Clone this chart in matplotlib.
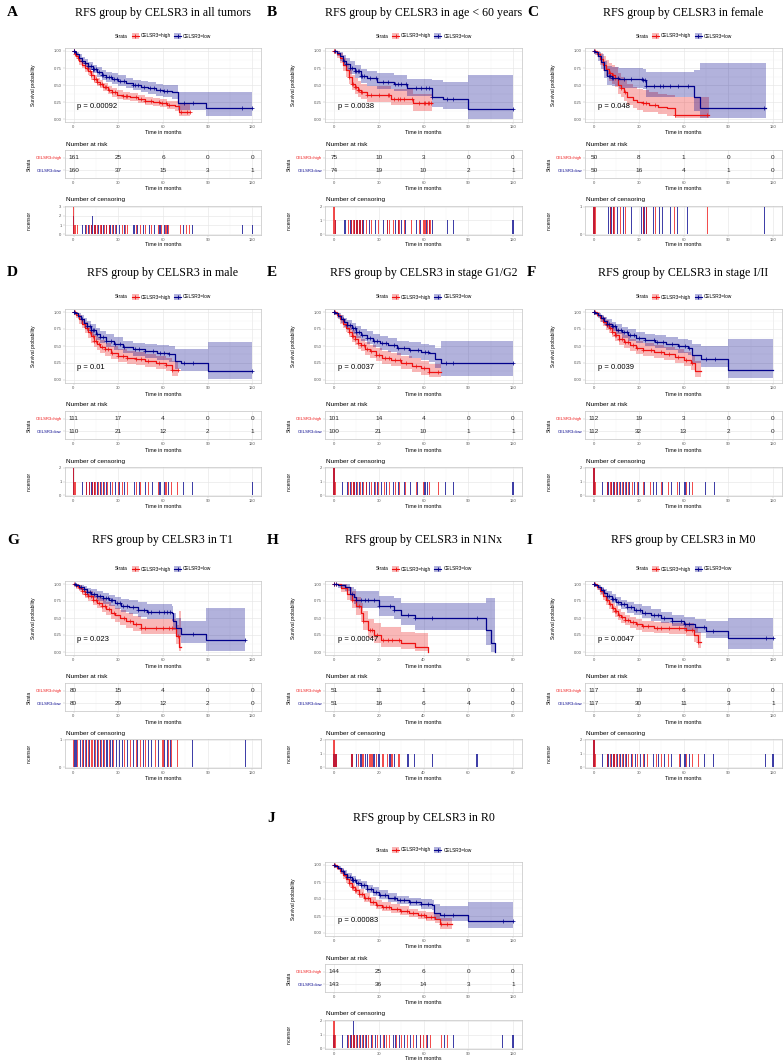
import numpy as np
import matplotlib.pyplot as plt
from matplotlib.patches import Rectangle
from matplotlib.lines import Line2D

# ---------------- data ----------------
# A: all tumors
a_high_time = [0, 1, 2, 3, 4, 6, 8, 10, 12, 14, 16, 18, 20, 23, 26, 29, 33, 38, 43, 48, 53, 58, 63, 68, 71, 78]
a_high_surv = [1.0, .96, .93, .89, .85, .80, .75, .70, .64, .59, .55, .51, .47, .43, .39, .36, .34, .32, .30, .27, .25, .23, .21, .19, .11, .11]
a_high_lower = [1.0, .93, .89, .85, .80, .75, .69, .64, .58, .53, .49, .45, .41, .37, .33, .30, .28, .26, .24, .21, .19, .17, .15, .12, .05, .05]
a_high_upper = [1.0, .99, .97, .94, .90, .86, .81, .76, .70, .65, .61, .57, .53, .49, .45, .42, .40, .38, .36, .33, .31, .29, .27, .26, .22, .22]
a_high_cens = [0, 0, 0, 1, 3, 9, 11, 12, 14, 15, 16, 18, 19, 21, 22, 24, 26, 28, 33, 35, 36, 42, 45, 48, 52, 57, 59, 62, 64, 72, 76, 78]
a_low_time = [0, 1, 2, 4, 6, 8, 10, 13, 16, 19, 22, 26, 30, 35, 40, 45, 50, 55, 60, 66, 70, 89, 120]
a_low_surv = [1.0, .98, .95, .90, .86, .82, .78, .73, .69, .65, .62, .59, .56, .53, .50, .47, .45, .43, .41, .39, .23, .16, .16]
a_low_lower = [1.0, .96, .92, .86, .81, .77, .72, .67, .62, .58, .55, .52, .49, .45, .42, .39, .37, .34, .32, .29, .13, .05, .05]
a_low_upper = [1.0, 1.0, .99, .95, .91, .88, .84, .80, .76, .72, .69, .67, .64, .61, .58, .56, .54, .52, .50, .50, .40, .40, .40]
a_low_cens = [0, 0, 6, 8, 10, 12, 13, 13, 14, 15, 17, 19, 20, 22, 24, 25, 27, 29, 31, 34, 40, 41, 43, 47, 51, 54, 58, 61, 63, 74, 80, 113, 120]
a_risk_high = [161, 25, 6, 0, 0]
a_risk_low = [160, 37, 15, 3, 1]

# B: age < 60 years
b_high_time = [0, 2, 4, 6, 8, 10, 12, 14, 16, 18, 22, 30, 38, 45, 53, 66]
b_high_surv = [1.0, .95, .89, .80, .72, .62, .52, .47, .43, .39, .35, .35, .30, .30, .23, .23]
b_high_lower = [1.0, .90, .82, .71, .62, .52, .42, .37, .33, .29, .25, .25, .20, .20, .12, .12]
b_high_upper = [1.0, 1.0, .97, .90, .83, .74, .65, .60, .56, .52, .48, .48, .44, .44, .37, .37]
b_high_cens = [0, 0, 1, 10, 12, 13, 14, 15, 16, 17, 18, 19, 22, 25, 30, 36, 37, 40, 43, 44, 47, 52, 57, 60, 61, 63, 64, 65]
b_low_time = [0, 2, 4, 6, 8, 11, 14, 18, 22, 29, 40, 49, 66, 73, 90, 120]
b_low_surv = [1.0, .97, .92, .86, .81, .75, .70, .63, .60, .55, .52, .46, .33, .29, .14, .14]
b_low_lower = [1.0, .93, .86, .78, .72, .66, .60, .53, .49, .44, .41, .34, .18, .15, .0, .0]
b_low_upper = [1.0, 1.0, .98, .94, .90, .85, .80, .74, .71, .67, .64, .59, .57, .55, .65, .65]
b_low_cens = [1, 7, 8, 11, 12, 14, 15, 16, 17, 18, 19, 20, 24, 28, 33, 36, 41, 43, 45, 48, 55, 58, 62, 64, 66, 76, 80, 120]
b_risk_high = [75, 10, 3, 0, 0]
b_risk_low = [74, 19, 10, 2, 1]

# C: female
c_high_time = [0, 2, 4, 6, 8, 10, 12, 14, 16, 18, 20, 22, 26, 29, 33, 37, 43, 49, 54, 77]
c_high_surv = [1.0, .96, .88, .80, .74, .68, .64, .60, .50, .45, .40, .33, .28, .25, .23, .21, .18, .16, .06, .06]
c_high_lower = [1.0, .91, .80, .70, .63, .56, .52, .47, .37, .32, .27, .20, .16, .13, .11, .10, .07, .05, .01, .01]
c_high_upper = [1.0, 1.0, .97, .92, .87, .82, .79, .76, .67, .62, .58, .52, .47, .44, .42, .40, .37, .35, .33, .33]
c_high_cens = [0, 1, 11, 13, 14, 18, 21, 33, 35, 41, 54, 76]
c_low_time = [0, 1, 3, 5, 7, 9, 12, 17, 33, 35, 67, 71, 115]
c_low_surv = [1.0, .98, .92, .84, .72, .63, .61, .59, .57, .49, .33, .16, .16]
c_low_lower = [1.0, .94, .85, .74, .60, .50, .48, .46, .44, .33, .12, .02, .02]
c_low_upper = [1.0, 1.0, .99, .95, .86, .78, .76, .75, .73, .69, .72, .82, .82]
c_low_cens = [0, 10, 11, 12, 13, 16, 20, 25, 32, 33, 34, 35, 40, 44, 46, 51, 56, 63, 114]
c_risk_high = [50, 8, 1, 0, 0]
c_risk_low = [50, 16, 4, 1, 0]

# D: male
d_high_time = [0, 2, 4, 6, 8, 10, 12, 14, 16, 18, 21, 25, 30, 36, 42, 48, 55, 62, 66, 70]
d_high_surv = [1.0, .95, .89, .83, .77, .71, .64, .58, .53, .49, .45, .40, .36, .33, .31, .28, .25, .22, .14, .14]
d_high_lower = [1.0, .91, .83, .76, .69, .62, .55, .49, .44, .40, .36, .31, .27, .24, .22, .19, .16, .13, .06, .06]
d_high_upper = [1.0, .99, .95, .90, .85, .80, .73, .68, .63, .59, .55, .50, .46, .43, .41, .38, .35, .33, .28, .28]
d_high_cens = [0, 0, 1, 9, 11, 13, 14, 15, 17, 19, 21, 23, 26, 30, 33, 36, 42, 45, 50, 57, 62, 66, 70]
d_low_time = [0, 1, 3, 5, 7, 9, 12, 15, 18, 22, 27, 33, 40, 48, 56, 64, 68, 72, 90, 120]
d_low_surv = [1.0, .98, .94, .89, .84, .79, .73, .68, .63, .58, .53, .48, .45, .42, .40, .38, .28, .25, .13, .13]
d_low_lower = [1.0, .95, .89, .83, .77, .72, .65, .59, .54, .49, .44, .39, .36, .32, .30, .27, .16, .13, .01, .01]
d_low_upper = [1.0, 1.0, .98, .95, .91, .87, .82, .77, .72, .68, .63, .58, .55, .53, .51, .50, .45, .45, .56, .56]
d_low_cens = [0, 0, 6, 9, 11, 12, 13, 14, 16, 18, 20, 22, 25, 28, 31, 34, 41, 44, 48, 53, 58, 61, 64, 74, 80, 120]
d_risk_high = [111, 17, 4, 0, 0]
d_risk_low = [110, 21, 12, 2, 1]

# E: stage G1/G2
e_high_time = [0, 2, 4, 6, 8, 10, 12, 14, 16, 18, 21, 24, 28, 32, 38, 45, 52, 58, 64, 72]
e_high_surv = [1.0, .95, .89, .83, .77, .71, .65, .60, .55, .51, .46, .42, .37, .33, .29, .25, .21, .17, .12, .12]
e_high_lower = [1.0, .91, .83, .76, .70, .63, .56, .51, .46, .42, .37, .32, .28, .24, .20, .16, .12, .08, .04, .04]
e_high_upper = [1.0, .99, .95, .90, .85, .79, .74, .69, .64, .60, .56, .52, .47, .43, .39, .35, .32, .28, .24, .24]
e_high_cens = [0, 0, 1, 10, 12, 13, 14, 16, 18, 20, 22, 25, 28, 30, 34, 37, 41, 44, 48, 55, 60, 64, 70]
e_low_time = [0, 1, 3, 5, 7, 9, 12, 15, 18, 22, 26, 31, 36, 42, 50, 58, 64, 68, 72, 120]
e_low_surv = [1.0, .98, .94, .90, .85, .81, .76, .71, .66, .62, .58, .54, .51, .47, .44, .41, .39, .31, .25, .25]
e_low_lower = [1.0, .95, .89, .84, .78, .73, .68, .62, .57, .53, .48, .44, .41, .37, .33, .30, .27, .18, .06, .06]
e_low_upper = [1.0, 1.0, .98, .96, .91, .88, .84, .80, .75, .72, .68, .65, .62, .58, .56, .53, .52, .47, .57, .57]
e_low_cens = [0, 0, 6, 9, 11, 13, 14, 15, 17, 19, 22, 24, 27, 29, 32, 35, 40, 43, 47, 51, 56, 61, 63, 75, 80, 120]
e_risk_high = [101, 14, 4, 0, 0]
e_risk_low = [100, 21, 10, 1, 1]

# F: stage I/II
f_high_time = [0, 2, 4, 6, 8, 10, 12, 14, 17, 20, 24, 28, 33, 40, 47, 54, 60, 65, 68, 72]
f_high_surv = [1.0, .96, .91, .86, .81, .76, .71, .66, .61, .56, .51, .47, .44, .41, .38, .34, .30, .25, .13, .13]
f_high_lower = [1.0, .92, .86, .80, .74, .69, .63, .58, .52, .47, .42, .38, .35, .32, .29, .25, .21, .15, .04, .04]
f_high_upper = [1.0, 1.0, .96, .92, .88, .84, .79, .75, .70, .66, .61, .57, .54, .51, .48, .45, .41, .37, .28, .28]
f_high_cens = [0, 0, 1, 9, 11, 12, 14, 15, 17, 19, 21, 23, 26, 29, 33, 38, 45, 50, 56, 62, 66]
f_low_time = [0, 1, 3, 5, 7, 9, 12, 15, 19, 23, 28, 34, 41, 48, 56, 63, 66, 72, 90, 120]
f_low_surv = [1.0, .98, .95, .91, .87, .83, .79, .74, .70, .66, .62, .59, .56, .53, .50, .47, .37, .31, .15, .15]
f_low_lower = [1.0, .95, .91, .86, .81, .77, .72, .67, .62, .58, .54, .50, .47, .44, .40, .37, .25, .19, .03, .03]
f_low_upper = [1.0, 1.0, .99, .96, .93, .89, .86, .82, .78, .75, .71, .68, .66, .63, .61, .59, .53, .50, .60, .60]
f_low_cens = [0, 0, 6, 9, 10, 12, 13, 14, 16, 18, 20, 22, 24, 27, 30, 34, 40, 42, 46, 52, 57, 61, 64, 75, 81]
f_risk_high = [112, 19, 3, 0, 0]
f_risk_low = [112, 32, 13, 2, 0]

# G: T1
g_high_time = [0, 2, 4, 6, 8, 10, 13, 16, 19, 22, 25, 28, 31, 35, 40, 45, 67, 69, 71, 72]
g_high_surv = [1.0, .97, .94, .90, .86, .82, .77, .72, .68, .63, .58, .54, .50, .46, .41, .36, .36, .23, .08, .08]
g_high_lower = [1.0, .93, .89, .84, .79, .75, .69, .64, .59, .54, .48, .44, .40, .36, .31, .26, .26, .12, .01, .01]
g_high_upper = [1.0, 1.0, .99, .96, .93, .90, .86, .82, .78, .74, .69, .65, .62, .58, .53, .48, .48, .40, .60, .60]
g_high_cens = [0, 3, 6, 8, 10, 12, 13, 15, 17, 19, 21, 24, 27, 34, 38, 42, 45, 48, 55, 60, 64, 66, 70]
g_low_time = [0, 2, 4, 7, 9, 12, 16, 20, 24, 28, 32, 37, 43, 49, 66, 67, 69, 72, 89, 115]
g_low_surv = [1.0, .98, .95, .92, .88, .86, .82, .79, .76, .72, .68, .66, .62, .59, .57, .45, .36, .27, .17, .17]
g_low_lower = [1.0, .95, .91, .87, .82, .79, .75, .71, .67, .63, .59, .56, .52, .49, .46, .32, .22, .13, .02, .02]
g_low_upper = [1.0, 1.0, .99, .97, .94, .92, .89, .87, .84, .81, .78, .76, .73, .70, .68, .58, .50, .45, .65, .65]
g_low_cens = [1, 2, 5, 7, 9, 11, 14, 16, 18, 20, 22, 23, 25, 26, 29, 31, 33, 36, 40, 43, 47, 50, 52, 57, 61, 63, 65, 80, 115]
g_risk_high = [80, 15, 4, 0, 0]
g_risk_low = [80, 29, 12, 2, 0]

# H: N1Nx
h_high_time = [0, 3, 6, 8, 10, 12, 13, 15, 18, 21, 30, 36, 42]
h_high_surv = [1.0, .94, .86, .76, .67, .57, .45, .32, .25, .18, .13, .08, .0]
h_high_lower = [1.0, .88, .77, .65, .55, .45, .33, .20, .13, .08, .04, .01, .0]
h_high_upper = [1.0, 1.0, .96, .89, .81, .72, .61, .49, .43, .37, .30, .28, .0]
h_high_cens = [0, 0, 1, 8, 11, 13, 16, 17, 19, 22, 24, 26, 29]
h_low_time = [0, 2, 5, 7, 9, 10, 20, 27, 30, 36, 68, 70, 72]
h_low_surv = [1.0, .98, .95, .86, .81, .76, .67, .62, .54, .50, .32, .13, .0]
h_low_lower = [1.0, .94, .89, .77, .70, .64, .53, .48, .39, .33, .10, .0, .0]
h_low_upper = [1.0, 1.0, 1.0, .96, .93, .89, .83, .79, .72, .72, .80, .80, .0]
h_low_cens = [0, 1, 8, 10, 12, 14, 15, 18, 20, 25, 27, 33, 36, 44, 64]
h_risk_high = [51, 11, 1, 0, 0]
h_risk_low = [51, 16, 6, 4, 0]

# I: M0
i_high_time = [0, 2, 4, 6, 8, 10, 12, 14, 16, 18, 21, 24, 28, 32, 40, 50, 62, 67, 70, 72]
i_high_surv = [1.0, .95, .89, .82, .76, .70, .65, .60, .55, .51, .47, .44, .41, .38, .36, .35, .33, .25, .15, .15]
i_high_lower = [1.0, .91, .84, .76, .69, .63, .57, .52, .47, .43, .39, .36, .33, .30, .28, .26, .24, .15, .06, .06]
i_high_upper = [1.0, .99, .94, .88, .82, .77, .72, .67, .63, .59, .55, .52, .49, .46, .44, .43, .42, .37, .30, .30]
i_high_cens = [0, 0, 1, 9, 11, 13, 14, 15, 17, 19, 21, 23, 26, 29, 33, 36, 42, 45, 50, 57, 62, 66, 70]
i_low_time = [0, 1, 3, 5, 7, 9, 12, 15, 18, 22, 27, 32, 38, 45, 52, 60, 68, 75, 90, 120]
i_low_surv = [1.0, .98, .95, .91, .87, .83, .78, .74, .70, .66, .62, .58, .54, .50, .46, .41, .37, .31, .21, .21]
i_low_lower = [1.0, .95, .91, .86, .81, .77, .72, .67, .63, .58, .54, .50, .46, .42, .38, .32, .28, .21, .05, .05]
i_low_upper = [1.0, 1.0, .99, .96, .93, .89, .85, .81, .77, .74, .70, .67, .63, .59, .55, .51, .48, .45, .50, .50]
i_low_cens = [0, 0, 6, 9, 10, 12, 13, 14, 16, 18, 20, 22, 25, 28, 31, 34, 40, 43, 47, 52, 58, 61, 64, 74, 80, 115, 120]
i_risk_high = [117, 19, 6, 0, 0]
i_risk_low = [117, 30, 11, 3, 1]

# J: R0
j_high_time = [0, 2, 4, 6, 8, 10, 12, 14, 17, 20, 24, 28, 32, 38, 44, 50, 56, 62, 68, 71, 79]
j_high_surv = [1.0, .96, .91, .85, .79, .73, .68, .63, .57, .52, .46, .41, .38, .35, .32, .29, .26, .24, .21, .13, .13]
j_high_lower = [1.0, .93, .87, .80, .74, .68, .62, .57, .51, .46, .40, .35, .32, .29, .26, .23, .20, .18, .14, .06, .06]
j_high_upper = [1.0, .99, .95, .90, .85, .79, .74, .69, .64, .59, .53, .48, .45, .42, .39, .36, .33, .31, .29, .22, .22]
j_high_cens = [0, 0, 1, 10, 12, 13, 14, 15, 17, 19, 21, 23, 26, 29, 33, 35, 37, 42, 45, 49, 53, 58, 60, 62, 65, 72, 76]
j_low_time = [0, 1, 3, 5, 7, 9, 12, 15, 18, 22, 26, 30, 36, 42, 50, 58, 66, 67, 71, 90, 120]
j_low_surv = [1.0, .98, .95, .91, .87, .83, .78, .74, .70, .65, .60, .56, .52, .48, .45, .43, .41, .29, .27, .18, .18]
j_low_lower = [1.0, .96, .92, .87, .83, .78, .73, .69, .64, .59, .54, .50, .46, .42, .39, .36, .34, .19, .17, .07, .07]
j_low_upper = [1.0, 1.0, .98, .95, .92, .88, .84, .80, .76, .71, .67, .63, .59, .55, .52, .50, .49, .42, .40, .45, .45]
j_low_cens = [0, 6, 9, 11, 12, 13, 13, 14, 16, 18, 20, 22, 25, 28, 31, 34, 40, 41, 44, 47, 51, 55, 58, 63, 74, 80, 113, 120]
j_risk_high = [144, 25, 6, 0, 0]
j_risk_low = [143, 36, 14, 3, 1]

panels = [
    ('A', 'RFS group by CELSR3 in all tumors', 0, 0, 120, 'p = 0.00092',
     (a_high_time, a_high_surv, a_high_lower, a_high_upper, a_high_cens),
     (a_low_time, a_low_surv, a_low_lower, a_low_upper, a_low_cens), a_risk_high, a_risk_low),
    ('B', 'RFS group by CELSR3 in age < 60 years', 1, 0, 120, 'p = 0.0038',
     (b_high_time, b_high_surv, b_high_lower, b_high_upper, b_high_cens),
     (b_low_time, b_low_surv, b_low_lower, b_low_upper, b_low_cens), b_risk_high, b_risk_low),
    ('C', 'RFS group by CELSR3 in female', 2, 0, 120, 'p = 0.048',
     (c_high_time, c_high_surv, c_high_lower, c_high_upper, c_high_cens),
     (c_low_time, c_low_surv, c_low_lower, c_low_upper, c_low_cens), c_risk_high, c_risk_low),
    ('D', 'RFS group by CELSR3 in male', 0, 1, 120, 'p = 0.01',
     (d_high_time, d_high_surv, d_high_lower, d_high_upper, d_high_cens),
     (d_low_time, d_low_surv, d_low_lower, d_low_upper, d_low_cens), d_risk_high, d_risk_low),
    ('E', 'RFS group by CELSR3 in stage G1/G2', 1, 1, 120, 'p = 0.0037',
     (e_high_time, e_high_surv, e_high_lower, e_high_upper, e_high_cens),
     (e_low_time, e_low_surv, e_low_lower, e_low_upper, e_low_cens), e_risk_high, e_risk_low),
    ('F', 'RFS group by CELSR3 in stage I/II', 2, 1, 120, 'p = 0.0039',
     (f_high_time, f_high_surv, f_high_lower, f_high_upper, f_high_cens),
     (f_low_time, f_low_surv, f_low_lower, f_low_upper, f_low_cens), f_risk_high, f_risk_low),
    ('G', 'RFS group by CELSR3 in T1', 0, 2, 120, 'p = 0.023',
     (g_high_time, g_high_surv, g_high_lower, g_high_upper, g_high_cens),
     (g_low_time, g_low_surv, g_low_lower, g_low_upper, g_low_cens), g_risk_high, g_risk_low),
    ('H', 'RFS group by CELSR3 in N1Nx', 1, 2, 80, 'p = 0.00047',
     (h_high_time, h_high_surv, h_high_lower, h_high_upper, h_high_cens),
     (h_low_time, h_low_surv, h_low_lower, h_low_upper, h_low_cens), h_risk_high, h_risk_low),
    ('I', 'RFS group by CELSR3 in M0', 2, 2, 120, 'p = 0.0047',
     (i_high_time, i_high_surv, i_high_lower, i_high_upper, i_high_cens),
     (i_low_time, i_low_surv, i_low_lower, i_low_upper, i_low_cens), i_risk_high, i_risk_low),
    ('J', 'RFS group by CELSR3 in R0', 1, 3, 120, 'p = 0.00083',
     (j_high_time, j_high_surv, j_high_lower, j_high_upper, j_high_cens),
     (j_low_time, j_low_surv, j_low_lower, j_low_upper, j_low_cens), j_risk_high, j_risk_low),
]

# ---------------- layout ----------------
RED = '#EE1111'
BLUE = '#00008B'
W, H = 783, 1063
col_left = [0, 260, 520]
col_x0 = [73.5, 334, 594]     # pixel where t = 0
row_y1 = [51, 312, 584, 865]  # pixel where survival = 1
title_y = [13, 273, 540, 818]
SPAN = 179

plt.rcParams['font.family'] = 'Liberation Sans'
fig = plt.figure(figsize=(W / 100, H / 100), dpi=100)


def fx(x):
    return x / W


def fy(y):
    return 1 - y / H


def add_ax(left, top, right, bottom):
    return fig.add_axes([fx(left), fy(bottom), (right - left) / W, (bottom - top) / H])


def style(ax):
    for sp in ax.spines.values():
        sp.set_color('#c4c4c4')
        sp.set_linewidth(0.5)
    ax.set_axisbelow(True)
    ax.grid(which='major', color='#e6e6e6', lw=0.45)
    ax.grid(which='minor', color='#f2f2f2', lw=0.3)
    ax.tick_params(which='major', length=1.2, width=0.3, color='#b3b3b3',
                   labelsize=3.0, labelcolor='#555555', pad=1)
    ax.tick_params(which='minor', length=0)


def ftext(x, y, s, **kw):
    fig.text(fx(x), fy(y), s, **kw)


for letter, title, col, row, xmax, ptxt, hi, lo, rk_hi, rk_lo in panels:
    x0 = col_x0[col]
    y1 = row_y1[row]
    c0 = col_left[col]
    pad = 0.05 * SPAN
    left, right = x0 - pad, x0 + SPAN + pad
    xc = x0 + SPAN / 2
    ticks = np.linspace(0, xmax, 5)
    minor = ticks[:-1] + xmax / 8
    xlim = (-0.05 * xmax, 1.05 * xmax)

    # title + letter
    ftext(c0 + 7, title_y[row], letter, fontsize=11, fontweight='bold',
          family='Liberation Serif', ha='left', va='center')
    ftext(xc, title_y[row], title, fontsize=8.6, family='Liberation Serif',
          ha='center', va='center')

    # legend
    ly = y1 - 15
    ftext(xc - 35, ly, 'Strata', fontsize=3.4, ha='right', va='center')
    for dx, colr, lab in [(-28, RED, 'CELSR3=high'), (14.5, BLUE, 'CELSR3=low')]:
        fig.add_artist(Rectangle((fx(xc + dx - 3.5), fy(ly + 3)), 7 / W, 6 / H,
                                 transform=fig.transFigure, color=colr, alpha=0.3, lw=0))
        fig.add_artist(Line2D([fx(xc + dx - 3.5), fx(xc + dx), fx(xc + dx + 3.5)],
                              [fy(ly)] * 3, transform=fig.transFigure, color=colr, lw=0.8,
                              marker='+', markevery=[1], ms=2.5, mew=0.6))
        ftext(xc + dx + 5.5, ly, lab, fontsize=3.4, ha='left', va='center')

    # survival curves
    ax = add_ax(left, y1 - 3.4, right, y1 + 71.4)
    style(ax)
    ax.set_xlim(xlim)
    ax.set_ylim(-0.05, 1.05)
    ax.set_xticks(ticks)
    ax.set_xticklabels([f'{t:g}' for t in ticks])
    ax.set_xticks(minor, minor=True)
    ax.set_yticks([0, .25, .5, .75, 1])
    ax.set_yticklabels(['0.00', '0.25', '0.50', '0.75', '1.00'])
    ax.set_yticks([.125, .375, .625, .875], minor=True)
    for (t, s, lw_, up, cens), colr in [(hi, RED), (lo, BLUE)]:
        t = np.asarray(t)
        s = np.asarray(s)
        ax.fill_between(t, lw_, up, step='post', color=colr, alpha=0.3, lw=0)
        ax.step(t, s, where='post', color=colr, lw=0.9)
        idx = np.searchsorted(t, cens, side='right') - 1
        ax.plot(cens, s[idx], ls='none', marker='+', ms=2.3, mew=0.5, color=colr)
    ax.text(0.022 * xmax, 0.18, ptxt, fontsize=5.5, va='center', ha='left')
    ftext(c0 + 33, y1 + 34, 'Survival probability', fontsize=3.5, rotation=90,
          ha='center', va='center')
    ftext(xc, y1 + 82, 'Time in months', fontsize=3.8, ha='center', va='center')

    # risk table
    ftext(left + 1, y1 + 93, 'Number at risk', fontsize=4.6, ha='left', va='center')
    ax2 = add_ax(left, y1 + 99, right, y1 + 127)
    style(ax2)
    ax2.set_xlim(xlim)
    ax2.set_ylim(0.4, 2.6)
    ax2.set_xticks(ticks)
    ax2.set_xticklabels([f'{t:g}' for t in ticks])
    ax2.set_xticks(minor, minor=True)
    ax2.set_yticks([1, 2])
    ax2.set_yticklabels(['CELSR3=low', 'CELSR3=high'])
    ax2.get_yticklabels()[0].set_color(BLUE)
    ax2.get_yticklabels()[1].set_color(RED)
    for i, t in enumerate(ticks):
        ax2.text(t, 2, str(rk_hi[i]), fontsize=4.6, ha='center', va='center', color='#222222')
        ax2.text(t, 1, str(rk_lo[i]), fontsize=4.6, ha='center', va='center', color='#222222')
    ftext(c0 + 29, y1 + 113, 'Strata', fontsize=3.5, rotation=90, ha='center', va='center')
    ftext(xc, y1 + 138, 'Time in months', fontsize=3.8, ha='center', va='center')

    # censoring plot
    ftext(left + 1, y1 + 149, 'Number of censoring', fontsize=4.6, ha='left', va='center')
    ax3 = add_ax(left, y1 + 154.6, right, y1 + 184.4)
    style(ax3)
    ax3.set_xlim(xlim)
    ax3.set_xticks(ticks)
    ax3.set_xticklabels([f'{t:g}' for t in ticks])
    ax3.set_xticks(minor, minor=True)
    mx = 1
    for (t, s, lw_, up, cens), colr in [(lo, BLUE), (hi, RED)]:
        u, n = np.unique(cens, return_counts=True)
        mx = max(mx, n.max())
        ax3.bar(u, n, width=0.7, color=colr, alpha=0.75, lw=0)
    ax3.set_ylim(-0.05 * mx, 1.05 * mx)
    ax3.set_yticks(range(mx + 1))
    ftext(c0 + 29, y1 + 169.5, 'n.censor', fontsize=3.5, rotation=90, ha='center', va='center')
    ftext(xc, y1 + 194, 'Time in months', fontsize=3.8, ha='center', va='center')

fig.savefig('out.png', dpi=100, facecolor='white')
